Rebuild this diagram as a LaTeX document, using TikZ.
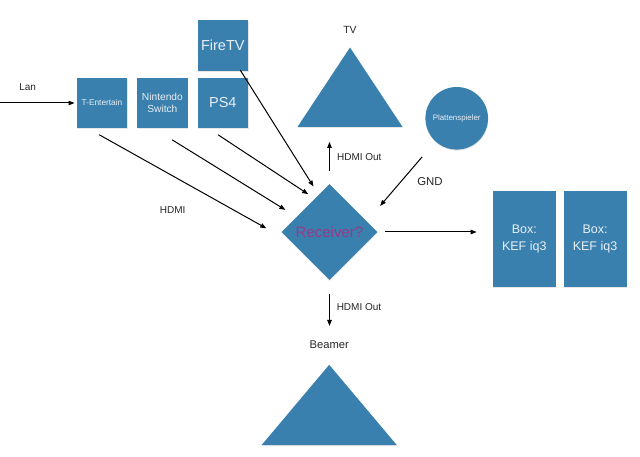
\documentclass[tikz,border=0pt]{standalone}
\usepackage{fontspec}
\setmainfont{Liberation Sans}
\usetikzlibrary{positioning, arrows.meta, shapes.geometric, shadows}

\definecolor{devblue}{RGB}{58,128,174}
\definecolor{devtext}{RGB}{232,239,245}
\definecolor{rcvtext}{RGB}{152,56,138}
\newcommand{\pxfont}[2]{\fontsize{#1}{#2}\selectfont}

\begin{document}
\begin{tikzpicture}[
    x=1pt, y=1pt, node distance=9.4pt and 9.4pt,
    shd/.style={drop shadow={shadow xshift=0.4pt, shadow yshift=-1pt, opacity=0.2}},
    dev/.style={rectangle, fill=devblue, text=devtext, shd, inner sep=0pt,
                minimum width=50.6pt, minimum height=50.6pt, align=center},
    lbl/.style={inner sep=0pt, text=black!85, font=\pxfont{10}{12}},
    arrow/.style={-{Triangle[length=6pt, width=4.5pt]}, line width=1pt}
]
  \useasboundingbox (0,0) rectangle (640,-457);

  % sources
  \node[dev, font=\pxfont{8.3}{10}] (tent) at (102,-103) {T-Entertain};
  \node[dev, right=of tent, font=\pxfont{10.2}{12}] (nsw) {Nintendo\\Switch};
  \node[dev, right=of nsw, font=\pxfont{14.5}{17}] (ps) {PS4};
  \node[dev, above=6.3pt of ps, font=\pxfont{14.5}{17}] (ftv) {FireTV};
  \node[circle, fill=devblue, text=devtext, shd, inner sep=0pt, minimum size=62.6pt,
        font=\pxfont{7.9}{9}] (pl) at (456.7,-118.3) {Plattenspieler};

  % receiver
  \node[diamond, fill=devblue, text=rcvtext, shd, inner sep=0pt, minimum size=96pt,
        font=\pxfont{15}{18}] (rcv) at (329.5,-232) {Receiver?};

  % speakers
  \node[dev, minimum width=63pt, minimum height=96pt, font=\pxfont{12.5}{17}]
        (kefa) at (524.3,-238.7) {Box:\\KEF iq3};
  \node[dev, right=7.3pt of kefa, minimum width=63pt, minimum height=96pt,
        font=\pxfont{12.5}{17}] (kefb) {Box:\\KEF iq3};

  % displays
  \node[inner sep=0pt, minimum width=104.6pt, minimum height=79pt] (tv) at (350,-87.2) {};
  \fill[devblue, shd] (tv.south west) -- (tv.north) -- (tv.south east) -- cycle;
  \node[inner sep=0pt, minimum width=135pt, minimum height=80pt] (bm) at (329.2,-405) {};
  \fill[devblue, shd] (bm.south west) -- (bm.north) -- (bm.south east) -- cycle;

  % labels
  \node[lbl] (lan) at (27.7,-87) {Lan};
  \node[lbl] (hdmi) at (172.7,-210) {HDMI};
  \node[lbl, font=\pxfont{10.4}{12}] (tvl) at (350,-30) {TV};
  \node[lbl] (outa) at (359.3,-156.7) {HDMI Out};
  \node[lbl] (outb) at (359,-307.3) {HDMI Out};
  \node[lbl, font=\pxfont{11.4}{13}] (gnd) at (430,-181.7) {GND};
  \node[lbl, font=\pxfont{11.2}{13}] (bml) at (329.3,-345) {Beamer};

  \coordinate (lanin) at (0,-103);

  \draw[arrow, shorten >=2pt] (lanin) -- (tent);
  \draw[arrow] ([shift={(-2.7,-6.3)}]tent.south) -- ([shift={(-15,3.7)}]rcv.west);
  \draw[arrow] ([shift={(9.7,-11.3)}]nsw.south) -- ([shift={(-20,-2)}]rcv.north west);
  \draw[arrow] ([shift={(-4.7,-6.3)}]ps.south) -- ([shift={(2.8,13.7)}]rcv.north west);
  \draw[arrow] ([shift={(-8,1)}]ftv.south east) -- ([shift={(-16,-2.7)}]rcv.north);
  \draw[arrow, shorten <=13pt, shorten >=15pt] (rcv.north) -- (rcv.north |- tv.south);
  \draw[arrow, shorten <=14pt, shorten >=15pt] (rcv.south) -- (rcv.south |- bml.north);
  \draw[arrow] ([shift={(-12.3,-16.3)}]pl.south west) -- ([shift={(26.5,2)}]rcv.north east);
  \draw[arrow, shorten <=7.5pt, shorten >=16pt] (rcv.east) -- (rcv.east -| kefa.west);
\end{tikzpicture}
\end{document}
